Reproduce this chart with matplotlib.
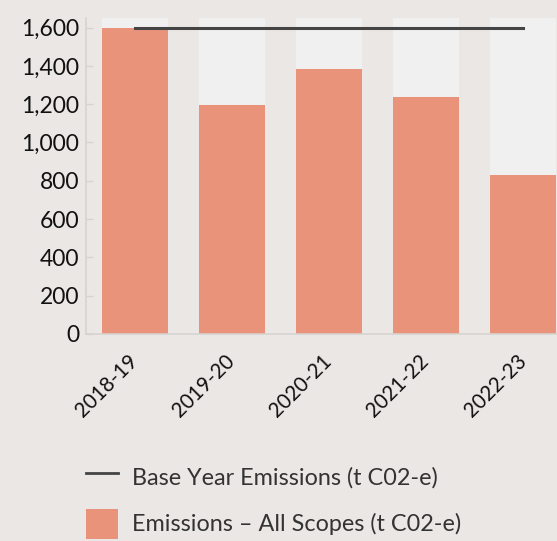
import matplotlib
matplotlib.use("Agg")
import matplotlib.pyplot as plt
from matplotlib.lines import Line2D
from matplotlib.patches import Patch

years = ["2018-19", "2019-20", "2020-21", "2021-22", "2022-23"]
emissions = [1600, 1198, 1385, 1235, 828]
base_year = [1600, 1600, 1600, 1600, 1600]
y_ticks = [0, 200, 400, 600, 800, 1000, 1200, 1400, 1600]
y_max = 1650

BG = "#ebe7e4"
COL_BG = "#f1f0f0"
BAR = "#ea937b"
LINE = "#444444"

plt.rcParams['font.family'] = ['Lato', 'DejaVu Sans']

W, H = 557, 541
fig = plt.figure(figsize=(W / 100, H / 100), dpi=100)
fig.patch.set_facecolor(BG)

left, right, top, bottom = 86, 571.6, 18, 334
ax = fig.add_axes([left / W, 1 - bottom / H, (right - left) / W, (bottom - top) / H])
ax.set_facecolor(BG)

x = list(range(len(years)))
width = 0.68
ax.bar(x, [y_max] * len(years), width=width, color=COL_BG, zorder=1)
ax.bar(x, emissions, width=width, color=BAR, zorder=2)
ax.plot(x, base_year, color=LINE, lw=2.2, zorder=3, solid_capstyle='projecting')

ax.set_xlim(-0.5, len(years) - 0.5)
ax.set_ylim(0, y_max)
ax.set_yticks(y_ticks)
ax.set_yticklabels([f"{v:,}" for v in y_ticks], fontsize=16.5, color="#111111")
ax.set_xticks(x)
ax.set_xticklabels(years, rotation=45, ha="right", va="center",
                   rotation_mode="anchor", fontsize=14.8, color="#111111")
ax.tick_params(axis='y', direction='in', length=5, width=1, color="#d6d3d1", pad=5)
ax.tick_params(axis='x', length=0, pad=17)
for s in ["top", "right"]:
    ax.spines[s].set_visible(False)
for s in ["left", "bottom"]:
    ax.spines[s].set_color("#d6d3d1")
    ax.spines[s].set_linewidth(1.2)

fs = 16.8
fs_px = fs * 100 / 72
handles = [Line2D([0], [0], color=LINE, lw=2),
           Patch(facecolor=BAR, edgecolor='none')]
labels = ["Base Year Emissions (t C02-e)", "Emissions \u2013 All Scopes (t C02-e)"]
leg = fig.legend(handles, labels, loc="upper left",
                 bbox_to_anchor=(86 / W, 1 - 462 / H), frameon=False,
                 borderpad=0, borderaxespad=0,
                 fontsize=fs, handlelength=32 / fs_px, handleheight=37 / fs_px,
                 handletextpad=14 / fs_px, labelspacing=17 / fs_px,
                 labelcolor="#333333")

fig.savefig("out.png", dpi=100, facecolor=BG)
